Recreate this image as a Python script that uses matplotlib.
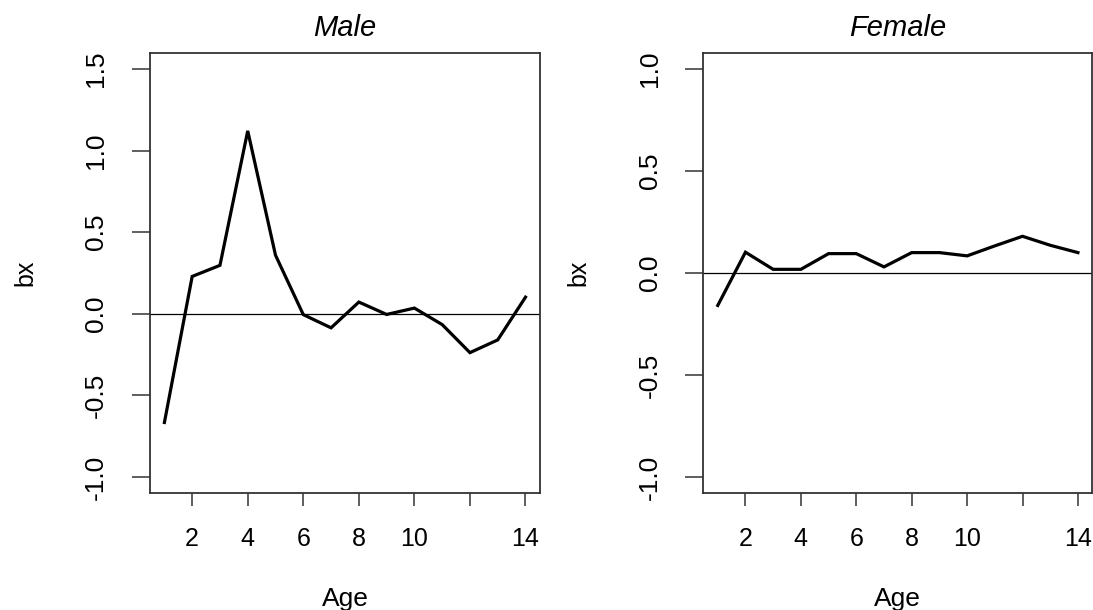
import matplotlib
matplotlib.use('Agg')
import matplotlib.pyplot as plt

plt.rcParams['font.family'] = ['Liberation Sans', 'DejaVu Sans']

age = [1, 2, 3, 4, 5, 6, 7, 8, 9, 10, 11, 12, 13, 14]
bx_male = [-0.666, 0.229, 0.297, 1.121, 0.359, -0.005, -0.086, 0.072,
           -0.004, 0.035, -0.066, -0.238, -0.160, 0.102]
bx_female = [-0.159, 0.102, 0.018, 0.018, 0.095, 0.095, 0.030, 0.100,
             0.100, 0.084, 0.133, 0.180, 0.136, 0.100]

xticks = [2, 4, 6, 8, 10, 12, 14]
xticklabels = ['2', '4', '6', '8', '10', '', '14']
male_yticks = [-1.0, -0.5, 0.0, 0.5, 1.0, 1.5]
female_yticks = [-1.0, -0.5, 0.0, 0.5, 1.0]

fig = plt.figure(figsize=(10.93, 6.10), dpi=100)
frame_col = '#333333'


def _panel(rect, y, title, yticks, ylim):
	ax = fig.add_axes(rect)
	ax.plot(age, y, color='black', lw=2.3, solid_joinstyle='miter')
	ax.axhline(0, color='black', lw=0.9)
	ax.set_xlim(0.48, 14.52)
	ax.set_ylim(*ylim)
	ax.set_xticks(xticks)
	ax.set_xticklabels(xticklabels, fontsize=18)
	ax.set_yticks(yticks)
	ax.set_yticklabels(['{:.1f}'.format(v) for v in yticks], fontsize=19,
		rotation=90, va='center')
	ax.tick_params(axis='x', length=9.5, width=1.1, pad=15, colors=frame_col,
		labelcolor='black')
	ax.tick_params(axis='y', length=13, width=1.1, pad=17, colors=frame_col,
		labelcolor='black')
	for s in ax.spines.values():
		s.set_color(frame_col)
		s.set_linewidth(1.3)
	ax.set_title(title, fontsize=21, style='italic', pad=12)
	ax.set_xlabel('Age', fontsize=19, labelpad=26)
	ax.set_ylabel('bx', fontsize=18, labelpad=34)
	return ax


_panel([0.1372, 0.1913, 0.3568, 0.7223], bx_male, 'Male', male_yticks, (-1.1, 1.6))
_panel([0.6435, 0.1913, 0.3559, 0.7223], bx_female, 'Female', female_yticks, (-1.08, 1.08))

fig.savefig('out.png', dpi=100)
